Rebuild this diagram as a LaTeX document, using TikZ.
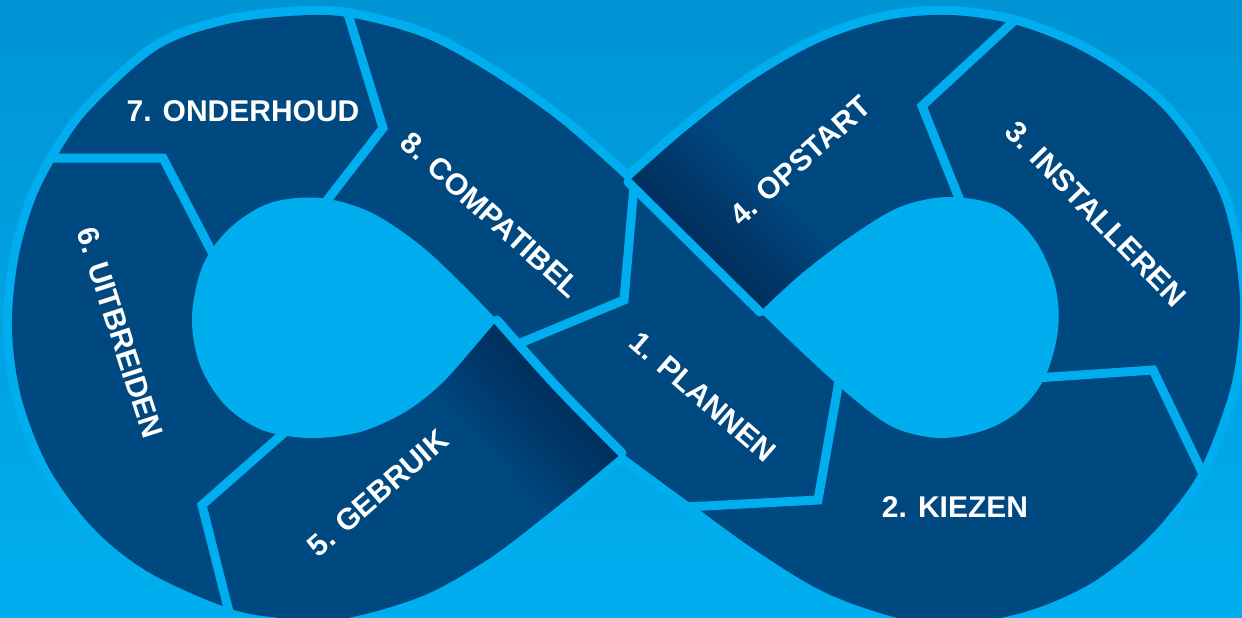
\documentclass[tikz,border=0pt]{standalone}
\usepackage{fontspec}
\setmainfont{Liberation Sans}
\definecolor{bgtop}{RGB}{0,148,212}
\definecolor{bgmid}{RGB}{0,168,233}
\definecolor{bgbot}{RGB}{0,174,239}
\definecolor{cyanl}{RGB}{0,174,239}
\definecolor{band}{RGB}{0,73,128}
\definecolor{shadowc}{RGB}{0,20,55}
\def\outerpath{(628,182) -- plot[smooth, tension=0.55] coordinates {(628,182) (687,130) (753,80) (820,42) (887,20) (950,15) (1013,24) (1070,45) (1117,72) (1160,106) (1195,150) (1222,200) (1236,260) (1240,320) (1230,390) (1200,470) (1167,517) (1133,552) (1090,584) (1040,607) (990,620) (935,625) (880,613) (820,590) (755,550) (690,503) (622,453)} -- plot[smooth, tension=0.55] coordinates {(622,453) (553,510) (487,560) (420,597) (337,620) (280,618) (228,608) (150,573) (95,530) (50,470) (22,400) (12,330) (18,260) (35,200) (58,155) (90,110) (157,50) (223,25) (290,16) (347,17) (423,37) (490,73) (560,122) (628,182)} -- cycle}
\def\leftholepath{(497,320) -- plot[smooth, tension=0.55] coordinates {(497,320) (462,284) (420,245) (370,212) (320,198) (270,203) (230,228) (203,265) (192,317) (200,365) (225,405) (262,430) (310,438) (360,432) (405,412) (440,385) (470,352) (497,320)} -- cycle}
\def\rightholepath{(760,312) -- plot[smooth, tension=0.55] coordinates {(760,312) (800,275) (850,237) (900,207) (950,197) (1000,207) (1035,240) (1055,285) (1058,330) (1045,377) (1020,410) (985,430) (940,438) (895,428) (855,400) (805,355) (760,312)} -- cycle}
\begin{document}
\begin{tikzpicture}[x=1pt, y=-1pt,
  lbl/.style={text=white, font=\fontsize{30}{36}\selectfont\bfseries, inner sep=0pt},
  sepline/.style={draw=cyanl, line width=9pt, line join=miter},
  edgeline/.style={draw=cyanl, line width=9pt, line cap=round}]
\useasboundingbox (0,0) rectangle (1242,618);
\shade[top color=bgtop, middle color=bgmid, bottom color=bgbot] (0,0) rectangle (1242,618);
% outline and band
\draw[cyanl, line width=18pt, line join=round] \outerpath;
\fill[band] \outerpath;
% shadows where band B passes under band A
\coordinate (T) at (628,182);
\coordinate (R) at (760,312);
\coordinate (L) at (497,320);
\coordinate (B) at (622,453);
\begin{scope}
  \clip \outerpath;
  \begin{scope}
    \clip (483,305) -- (636,468) -- (490,605) -- (337,442) -- cycle;
    \foreach \w in {12,28,44,60,76,92,108,124,140,156,172,188}{
      \draw[shadowc, opacity=0.045, line width=\w pt] (470,291) -- (650,483);
    }
  \end{scope}
  \begin{scope}
    \clip (614,168) -- (774,326) -- (914,183) -- (754,25) -- cycle;
    \foreach \w in {12,28,44,60,76,92,108,124,140,156,172,188}{
      \draw[shadowc, opacity=0.045, line width=\w pt] (600,154) -- (790,342);
    }
  \end{scope}
\end{scope}
% holes
\fill[cyanl] \leftholepath;
\fill[cyanl] \rightholepath;
% edges of the upper band across the crossing
\draw[edgeline] (T) -- (R);
\draw[edgeline] plot[smooth, tension=0.55] coordinates {(497,320) (558,388) (622,453)};
% separators
\draw[sepline] (634,186) -- (624,300) -- (518,344);
\draw[sepline] (839,381) -- (818,500) -- (686,507);
\draw[sepline] (1036,378) -- (1153,370) -- (1202,472);
\draw[sepline] (1015,20) -- (922,106) -- (961,203);
\draw[sepline] (285,432) -- (202,505) -- (229,612);
\draw[sepline] (52,158) -- (163,158) -- (214,256);
\draw[sepline] (348,14) -- (383,128) -- (325,203);
% labels
\node[lbl, rotate=-41] (l1) at (703,397) {1. PLANNEN};
\node[lbl] (l2) at (955,507) {2. KIEZEN};
\node[lbl, rotate=-46] (l3) at (1096,214) {3. INSTALLEREN};
\node[lbl, rotate=42] (l4) at (800,161) {4. OPSTART};
\node[lbl, rotate=41] (l5) at (378,493) {5. GEBRUIK};
\node[lbl, rotate=-72] (l6) at (120,333) {6. UITBREIDEN};
\node[lbl] (l7) at (243,111) {7. ONDERHOUD};
\node[lbl, rotate=-42] (l8) at (491,215) {8. COMPATIBEL};
\end{tikzpicture}
\end{document}
